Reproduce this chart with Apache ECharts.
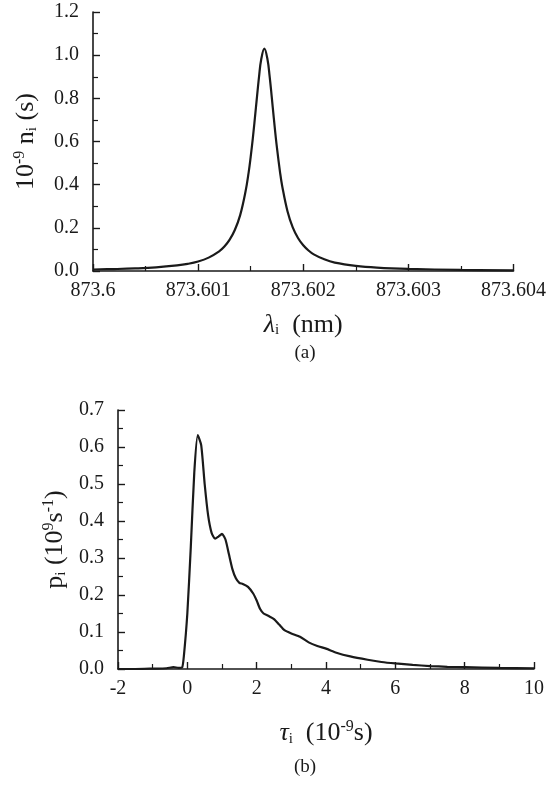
<!DOCTYPE html>
<html>
<head>
<meta charset="utf-8">
<script src="https://cdn.jsdelivr.net/npm/echarts@6/dist/echarts.min.js"></script>
<style>
html, body { margin: 0; padding: 0; background: #fff; }
#chart { width: 549px; height: 787px; }
</style>
</head>
<body>
<div id="chart"></div>
<script>
// (a) spectral line
const lambdaVals = [873.6, 873.6002, 873.6004, 873.6006, 873.6008, 873.6009, 873.601, 873.6011, 873.6012,
  873.60125, 873.6013, 873.60135, 873.6014, 873.60145, 873.60148, 873.6015, 873.60152, 873.60155, 873.60158,
  873.6016, 873.60163, 873.60166, 873.60168, 873.6017, 873.60172, 873.60175, 873.60178, 873.6018, 873.60185,
  873.6019, 873.60195, 873.602, 873.60205, 873.6021, 873.6022, 873.6023, 873.6025, 873.6027, 873.603,
  873.6035, 873.604]
const nVals = [0.007, 0.009, 0.012, 0.017, 0.026, 0.033, 0.044, 0.062, 0.091,
  0.113, 0.145, 0.191, 0.259, 0.366, 0.455, 0.529, 0.613, 0.758, 0.903,
  0.98, 1.03, 0.98, 0.903, 0.808, 0.708, 0.57, 0.455, 0.393, 0.277,
  0.202, 0.153, 0.119, 0.095, 0.077, 0.054, 0.039, 0.024, 0.016, 0.010,
  0.005, 0.003]
const lambdaTicks = ['873.6', '873.601', '873.602', '873.603', '873.604']
const nTicks = ['0.0', '0.2', '0.4', '0.6', '0.8', '1.0', '1.2']

// (b) delay distribution
const tauVals = [-2, -1.5, -1, -0.6, -0.4, -0.25, -0.15, -0.1, 0, 0.1, 0.2, 0.3, 0.4, 0.5, 0.6, 0.7, 0.8, 0.9,
  1.0, 1.1, 1.2, 1.3, 1.4, 1.5, 1.6, 1.75, 1.9, 2.0, 2.1, 2.2, 2.35, 2.5, 2.65, 2.8, 3.0, 3.25, 3.5, 3.75,
  4.0, 4.3, 4.7, 5.2, 5.6, 6.0, 6.5, 7.0, 7.5, 8.0, 9.0, 10]
const pVals = [0, 0, 0.001, 0.002, 0.005, 0.003, 0.004, 0.035, 0.15, 0.33, 0.53, 0.632, 0.605, 0.5, 0.415, 0.368, 0.352, 0.358,
  0.365, 0.35, 0.31, 0.27, 0.245, 0.233, 0.23, 0.222, 0.204, 0.185, 0.162, 0.15, 0.143, 0.135, 0.12, 0.105, 0.096, 0.087, 0.072, 0.062,
  0.055, 0.044, 0.034, 0.025, 0.019, 0.015, 0.011, 0.008, 0.006, 0.005, 0.003, 0.002]
const tauTicks = ['-2', '0', '2', '4', '6', '8', '10']
const pTicks = ['0.0', '0.1', '0.2', '0.3', '0.4', '0.5', '0.6', '0.7']

const FONT = 'Liberation Serif'
const INK = '#1a1a1a'

function richStyles () {
  return {
    sup: { fontFamily: FONT, fontSize: 16, color: INK, padding: [0, 0, 13, 0] },
    sub: { fontFamily: FONT, fontSize: 15, color: INK, padding: [11, 0, 0, 0] },
    it: { fontFamily: FONT, fontSize: 26, fontStyle: 'italic', color: INK }
  }
}

function baseAxis (opts) {
  return Object.assign({
    type: 'value',
    axisLine: { show: true, onZero: false, lineStyle: { color: INK, width: 1.6 } },
    axisTick: { show: true, inside: true, length: 7, lineStyle: { color: INK, width: 1.4 } },
    minorTick: { show: true, splitNumber: 2, length: 5, lineStyle: { color: INK, width: 1.2 } },
    splitLine: { show: false },
    axisLabel: { fontFamily: FONT, fontSize: 20, color: INK },
    nameLocation: 'middle',
    nameTextStyle: { fontFamily: FONT, fontSize: 26, color: INK, rich: richStyles() }
  }, opts)
}

function initOption () {
  return {
    animation: false,
    backgroundColor: '#fff',
    grid: [
      { left: 93, top: 12, width: 421, height: 259 },
      { left: 118, top: 410, width: 416, height: 259 }
    ],
    xAxis: [
      baseAxis({
        gridIndex: 0,
        min: 873.6,
        max: 873.604,
        interval: 0.001,
        axisLabel: {
          fontFamily: FONT, fontSize: 20, color: INK, margin: 10,
          formatter: v => lambdaTicks[Math.round((v - 873.6) / 0.001)]
        },
        name: '{it|λ}{sub|i}  (nm)',
        nameGap: 41
      }),
      baseAxis({
        gridIndex: 1,
        min: -2,
        max: 10,
        interval: 2,
        axisLabel: {
          fontFamily: FONT, fontSize: 20, color: INK, margin: 10,
          formatter: v => tauTicks[Math.round((v + 2) / 2)]
        },
        name: '{it|τ}{sub|i}  (10{sup|-9}s)',
        nameGap: 50
      })
    ],
    yAxis: [
      baseAxis({
        gridIndex: 0,
        min: 0,
        max: 1.2,
        interval: 0.2,
        axisLabel: {
          fontFamily: FONT, fontSize: 20, color: INK, margin: 14,
          formatter: v => nTicks[Math.round(v / 0.2)]
        },
        name: '10{sup|-9} n{sub|i} (s)',
        nameRotate: 90,
        nameGap: 52
      }),
      baseAxis({
        gridIndex: 1,
        min: 0,
        max: 0.7,
        interval: 0.1,
        axisLabel: {
          fontFamily: FONT, fontSize: 20, color: INK, margin: 14,
          formatter: v => pTicks[Math.round(v / 0.1)]
        },
        name: 'p{sub|i} (10{sup|9}s{sup|-1})',
        nameRotate: 90,
        nameGap: 48
      })
    ],
    graphic: [
      { type: 'text', x: 305, y: 353, style: { text: '(a)', fontFamily: FONT, fontSize: 19, fill: INK, align: 'center', verticalAlign: 'middle' } },
      { type: 'text', x: 305, y: 767, style: { text: '(b)', fontFamily: FONT, fontSize: 19, fill: INK, align: 'center', verticalAlign: 'middle' } }
    ],
    series: [
      {
        type: 'line',
        xAxisIndex: 0,
        yAxisIndex: 0,
        showSymbol: false,
        smooth: 0.4,
        lineStyle: { color: INK, width: 2.2 },
        data: lambdaVals.map((x, i) => [x, nVals[i]])
      },
      {
        type: 'line',
        xAxisIndex: 1,
        yAxisIndex: 1,
        showSymbol: false,
        smooth: 0.2,
        lineStyle: { color: INK, width: 2.2 },
        data: tauVals.map((x, i) => [x, pVals[i]])
      }
    ]
  }
}

const myChart = echarts.init(document.getElementById('chart'))
myChart.setOption(initOption())
</script>
</body>
</html>
